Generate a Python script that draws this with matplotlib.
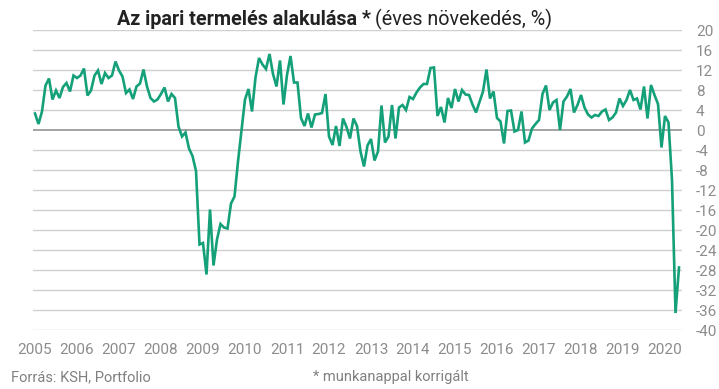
import matplotlib
matplotlib.use("Agg")
import matplotlib.pyplot as plt
import numpy as np

plt.rcParams['font.family'] = ['Roboto', 'DejaVu Sans']

# havi adatok, 2005 jan - 2020 máj (éves növekedés, %)
start_year = 2005
values = [
    3.3, 1.2, 3.7, 8.9, 10.3, 6.1, 7.9, 6.4, 8.6, 9.4, 7.7, 10.9,      # 2005
    10.4, 10.9, 12.3, 6.9, 7.9, 10.9, 11.9, 9.2, 11.4, 10.4, 10.9, 13.7,  # 2006
    11.9, 10.7, 7.4, 8.1, 6.2, 8.7, 9.3, 12.1, 8.7, 6.4, 5.7, 6.1,      # 2007
    7.2, 8.5, 5.7, 7.2, 6.4, 0.7, -1.3, -0.5, -3.7, -5.2, -8.2, -22.9,  # 2008
    -22.6, -28.9, -15.9, -27.1, -21.9, -18.8, -19.5, -19.7, -14.7, -13.3, -6.3, 0.0,  # 2009
    6.1, 8.2, 3.7, 10.5, 14.4, 13.1, 12.2, 15.2, 11.2, 8.7, 13.9, 5.1,  # 2010
    11.0, 14.8, 9.5, 9.5, 2.4, 0.8, 3.3, 0.5, 3.1, 3.2, 3.4, 7.2,       # 2011
    -1.3, -3.0, 0.8, -3.2, 2.3, 0.6, -1.7, 2.3, 0.8, -4.3, -7.3, -3.1,  # 2012
    -1.8, -6.1, -4.3, 4.9, -2.5, -1.3, 5.0, -1.7, 4.5, 5.0, 4.0, 6.6,   # 2013
    6.2, 7.5, 8.5, 9.2, 9.2, 12.4, 12.5, 2.8, 4.6, 1.5, 6.4, 4.4,       # 2014
    8.2, 5.7, 8.0, 7.1, 7.0, 5.1, 3.5, 5.6, 7.7, 12.1, 6.3, 7.7,        # 2015
    2.4, 1.7, -2.7, 3.8, 3.9, -0.3, 0.0, 3.7, -2.5, -2.1, 0.3, 1.2,     # 2016
    2.0, 7.2, 8.9, 4.0, 5.5, 6.0, 0.0, 5.7, 6.7, 8.2, 3.5, 5.0,         # 2017
    7.0, 4.5, 3.1, 2.5, 3.0, 2.8, 3.7, 4.1, 2.0, 2.5, 3.5, 6.3,         # 2018
    4.8, 6.0, 8.0, 6.0, 6.3, 4.1, 8.7, 2.3, 9.0, 7.0, 5.2, -3.5,        # 2019
    2.8, 1.5, -10.0, -36.6, -27.5,                                      # 2020
]
year_labels = [str(y) for y in range(2005, 2021)]
y_ticks = list(range(-40, 21, 4))

x = start_year + np.arange(len(values)) / 12

fig = plt.figure(figsize=(7.19, 3.89), dpi=100)
ax = fig.add_axes([33 / 719, 1 - 330 / 389, 649 / 719, 300 / 389])

ax.set_ylim(-40, 20)
ax.set_xlim(2005 - 2 / 42, 2005 + 647 / 42)
for t in y_ticks:
    if t == 0:
        ax.axhline(t, color="#8a8a8a", lw=1.1, zorder=1)
    else:
        ax.axhline(t, color="#d0d0d0", lw=1.0, zorder=1)

ax.plot(x, values, color="#14a079", lw=1.9, zorder=3, solid_joinstyle="miter")

for s in ax.spines.values():
    s.set_visible(False)
ax.yaxis.tick_right()
ax.set_yticks(y_ticks)
ax.set_yticklabels([str(t) for t in y_ticks])
ax.set_xticks(range(2005, 2021))
ax.set_xticklabels(year_labels)
ax.tick_params(axis="y", length=0, pad=10, labelsize=11, labelcolor="#8c8c8c")
ax.tick_params(axis="x", length=0, pad=9, labelsize=11, labelcolor="#8c8c8c")

# cím: félkövér + normál rész
t1 = fig.text(117 / 719, 1 - 25 / 389, "Az ipari termelés alakulása *", fontsize=14.2,
              fontweight="bold", color="#222222", ha="left", va="baseline")
fig.canvas.draw()
bb = t1.get_window_extent()
fig.text(bb.x1 / fig.bbox.width + 4 / 719, 1 - 25 / 389, "(éves növekedés, %)", fontsize=14.2,
         color="#222222", ha="left", va="baseline")

fig.text(11 / 719, 1 - 381 / 389, "Forrás: KSH, Portfolio", fontsize=10.5,
         color="#808080", ha="left", va="baseline")
fig.text(313 / 719, 1 - 381 / 389, "* munkanappal korrigált", fontsize=10.5,
         color="#808080", ha="left", va="baseline")

fig.savefig("out.png", dpi=100)
